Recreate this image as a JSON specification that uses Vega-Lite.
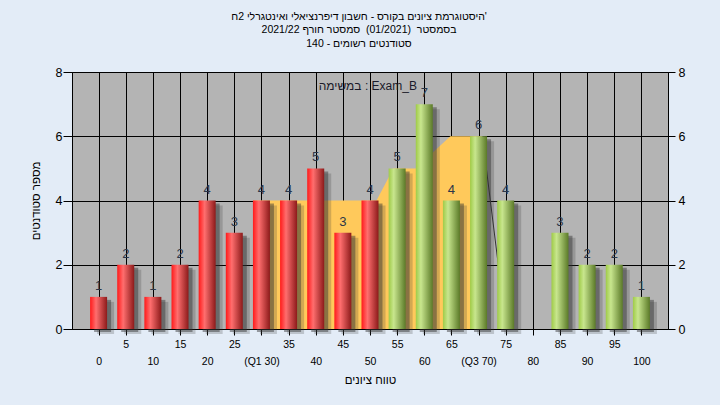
{
  "$schema": "https://vega.github.io/schema/vega-lite/v6.json",
  "width": 596,
  "height": 257,
  "autosize": "none",
  "padding": {"left": 72, "top": 72, "right": 52, "bottom": 76},
  "background": "#E3ECF7",
  "config": {
    "font": "Liberation Sans",
    "view": {"fill": "#B4B4B4", "stroke": "#000000", "strokeWidth": 1}
  },
  "title": {
    "text": ["היסטוגרמת ציונים בקורס - חשבון דיפרנציאלי ואינטגרלי 2ח'", "בסמסטר \u00a0(01/2021) \u00a0סמסטר חורף 2021/22", "סטודנטים רשומים - 140"],
    "anchor": "middle",
    "frame": "group",
    "fontSize": 10.5,
    "fontWeight": "normal",
    "lineHeight": 13.5,
    "offset": 17,
    "dx": -11,
    "color": "#000000",
    "font": "Liberation Sans"
  },
  "datasets": {
    "hist": [
      {"score": 0, "count": 1}, {"score": 5, "count": 2}, {"score": 10, "count": 1}, {"score": 15, "count": 2},
      {"score": 20, "count": 4}, {"score": 25, "count": 3}, {"score": 30, "count": 4}, {"score": 35, "count": 4},
      {"score": 40, "count": 5}, {"score": 45, "count": 3}, {"score": 50, "count": 4}, {"score": 55, "count": 5},
      {"score": 60, "count": 7}, {"score": 65, "count": 4}, {"score": 70, "count": 6}, {"score": 75, "count": 4},
      {"score": 80, "count": 0}, {"score": 85, "count": 3}, {"score": 90, "count": 2}, {"score": 95, "count": 2},
      {"score": 100, "count": 1}
    ],
    "iqr": [
      {"score": 28.5, "count": 4}, {"score": 51.2, "count": 4}, {"score": 54.3, "count": 5},
      {"score": 58.4, "count": 5}, {"score": 64.8, "count": 6}, {"score": 70.7, "count": 6}
    ],
    "edge": [
      {"score": 70.7, "count": 6}, {"score": 75.1, "count": 0}
    ],
    "note": [
      {"score": 49.6, "count": 7.57, "label": "במשימה : Exam_B"}
    ]
  },
  "encoding": {
    "x": {
      "field": "score", "type": "quantitative",
      "scale": {"domain": [-4.9, 104.9], "nice": false, "zero": false, "padding": 0},
      "axis": {
        "title": "טווח ציונים",
        "values": [0, 5, 10, 15, 20, 25, 30, 35, 40, 45, 50, 55, 60, 65, 70, 75, 80, 85, 90, 95, 100],
        "grid": true, "gridColor": "#000000", "gridWidth": 1, "gridOpacity": 1,
        "domainColor": "#000000", "tickColor": "#000000", "tickSize": 6,
        "labelExpr": "datum.value % 10 === 0 ? [' ', datum.value === 30 ? '(Q1 30)' : (datum.value === 70 ? '(Q3 70)' : datum.label)] : datum.label",
        "labelLineHeight": 17,
        "labelFontSize": 10.5, "labelColor": "#000000", "labelPadding": 4,
        "labelFlush": false, "labelOverlap": false, "labelBound": false,
        "titleFontSize": 11.5, "titleFontWeight": "normal", "titleColor": "#000000", "titlePadding": 8
      }
    },
    "y": {
      "field": "count", "type": "quantitative",
      "scale": {"domain": [0, 8], "nice": false, "padding": 0},
      "axis": null
    }
  },
  "layer": [
    {
      "data": {"name": "iqr"},
      "mark": {"type": "area", "color": "#FFC95B", "interpolate": "linear", "opacity": 1},
      "encoding": {
        "y": {
          "field": "count", "type": "quantitative",
          "scale": {"domain": [0, 8], "nice": false, "padding": 0},
          "axis": {
            "orient": "left", "values": [0, 2, 4, 6, 8],
            "grid": true, "gridColor": "#000000", "gridWidth": 1, "gridOpacity": 1,
            "domainColor": "#000000", "tickColor": "#000000", "tickSize": 9,
            "labelPadding": 1, "labelFontSize": 12.5, "labelColor": "#000000",
            "title": "מספר סטודנטים", "titleFontSize": 11.5, "titleFontWeight": "normal",
            "titleColor": "#000000", "titlePadding": 14
          }
        }
      }
    },
    {
      "data": {"name": "edge"},
      "mark": {"type": "line", "color": "#333333", "strokeWidth": 1},
      "encoding": {}
    },
    {
      "data": {"name": "hist"},
      "transform": [{"filter": "datum.count > 0"}],
      "mark": {"type": "bar", "size": 17, "color": "#303030", "opacity": 0.22, "xOffset": 7, "yOffset": 5, "y2Offset": 5},
      "encoding": {}
    },
    {
      "data": {"name": "hist"},
      "transform": [{"filter": "datum.count > 0"}],
      "mark": {"type": "bar", "size": 17, "color": "#303030", "opacity": 0.45, "xOffset": 4, "yOffset": 3, "y2Offset": 3},
      "encoding": {}
    },
    {
      "data": {"name": "hist"},
      "transform": [{"filter": "datum.score < 55 && datum.count > 0"}],
      "mark": {
        "type": "bar", "size": 17,
        "color": {"gradient": "linear", "x1": 0, "x2": 1, "y1": 0, "y2": 0,
          "stops": [{"offset": 0, "color": "#FF1A1A"}, {"offset": 0.35, "color": "#FF6E6E"}, {"offset": 1, "color": "#8C1A1A"}]}
      },
      "encoding": {}
    },
    {
      "data": {"name": "hist"},
      "transform": [{"filter": "datum.score >= 55 && datum.count > 0"}],
      "mark": {
        "type": "bar", "size": 17,
        "color": {"gradient": "linear", "x1": 0, "x2": 1, "y1": 0, "y2": 0,
          "stops": [{"offset": 0, "color": "#9FCB47"}, {"offset": 0.3, "color": "#C8E68E"}, {"offset": 1, "color": "#5B7A28"}]}
      },
      "encoding": {}
    },
    {
      "data": {"name": "hist"},
      "transform": [{"filter": "datum.count > 0"}],
      "mark": {"type": "text", "baseline": "alphabetic", "dy": -7, "fontSize": 13, "color": "#2B3648"},
      "encoding": {
        "text": {"field": "count", "type": "quantitative"},
        "y": {
          "field": "count", "type": "quantitative",
          "scale": {"domain": [0, 8], "nice": false, "padding": 0},
          "axis": {
            "orient": "right", "values": [0, 2, 4, 6, 8], "grid": false,
            "domainColor": "#000000", "tickColor": "#000000", "tickSize": 7,
            "labelPadding": 3, "labelFontSize": 12.5, "labelColor": "#000000",
            "title": null
          }
        }
      }
    },
    {
      "data": {"name": "note"},
      "mark": {"type": "text", "baseline": "middle", "align": "center", "fontSize": 12, "color": "#1A1A2A"},
      "encoding": {"text": {"field": "label", "type": "nominal"}}
    }
  ],
  "resolve": {"axis": {"y": "independent"}}
}
